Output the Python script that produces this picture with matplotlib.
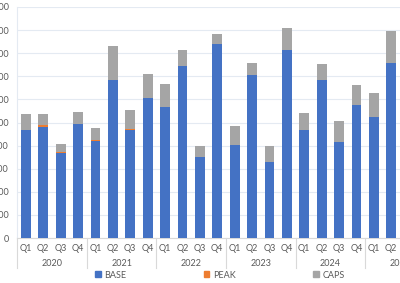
import matplotlib
matplotlib.use("Agg")
import matplotlib.pyplot as plt
from matplotlib.patches import Patch
import matplotlib.transforms as mtransforms

quarters = ["Q1", "Q2", "Q3", "Q4"] * 5 + ["Q1", "Q2"]
years = ["2020", "2021", "2022", "2023", "2024", "2025"]
base = [467, 480, 366, 494, 420, 684, 467, 607, 567, 746, 351, 840,
        403, 706, 329, 815, 469, 685, 416, 577, 524, 759]
peak = [2, 8, 5, 0, 3, 0, 3, 0, 0, 0, 0, 0,
        0, 0, 0, 0, 0, 0, 0, 0, 0, 0]
caps = [68, 49, 36, 51, 53, 148, 84, 103, 101, 68, 47, 43,
        81, 50, 69, 95, 72, 67, 92, 87, 105, 138]
yticks = list(range(0, 1001, 100))

plt.rcParams['font.family'] = ['Lato', 'DejaVu Sans']
txt = "#595959"
fig = plt.figure(figsize=(4.0, 2.83), dpi=100)
W, H = 400, 283
slot = 17.4
x0 = 17.2
nslots = 24
ax = fig.add_axes([x0 / W, 45 / H, nslots * slot / W, 231 / H])

xs = list(range(len(base)))
bw = 0.56
c_base, c_peak, c_caps = "#4472C4", "#ED7D31", "#A5A5A5"
ax.bar(xs, base, bw, color=c_base, zorder=3)
ax.bar(xs, peak, bw, bottom=base, color=c_peak, zorder=3)
b3 = [b + p for b, p in zip(base, peak)]
ax.bar(xs, caps, bw, bottom=b3, color=c_caps, zorder=3)

ax.set_xlim(-0.5, nslots - 0.5)
ax.set_ylim(0, 1000)
ax.set_yticks(yticks)
ax.set_yticklabels([str(v) for v in yticks])
ax.set_xticks(xs)
ax.set_xticklabels(quarters)
ax.tick_params(axis='both', length=0, labelsize=6.5, colors=txt)
ax.tick_params(axis='y', pad=6)
ax.tick_params(axis='x', pad=4)
ax.grid(axis='y', color="#e4eaf2", linewidth=0.8, zorder=0)
for s in ["top", "right"]:
    ax.spines[s].set_visible(False)
ax.spines["left"].set_color("#e4eaf2")
ax.spines["bottom"].set_color("#d9d9d9")
ax.spines["left"].set_linewidth(0.8)
ax.spines["bottom"].set_linewidth(0.8)

trans = mtransforms.blended_transform_factory(ax.transData, ax.transAxes)
sep_bottom = -30 / 231
for i in range(len(years) + 1):
    xb = -0.5 + 4 * i
    ax.plot([xb, xb], [0, sep_bottom], transform=trans, color="#d9d9d9",
            linewidth=0.8, clip_on=False)
for i, y in enumerate(years):
    ax.text(-0.5 + 4 * i + 2, -26 / 231, y, transform=trans, ha="center",
            va="center", fontsize=6.5, color=txt)

handles = [Patch(color=c_base, label="BASE"), Patch(color=c_peak, label="PEAK"),
           Patch(color=c_caps, label="CAPS")]
fig.legend(handles=handles, loc="center", bbox_to_anchor=(220 / W, 1 - 275 / H),
           ncol=3, frameon=False, fontsize=6.5, labelcolor=txt,
           handlelength=0.6, handleheight=0.6, handletextpad=0.4,
           columnspacing=8.6, borderpad=0)

fig.savefig("out.png", dpi=100)
